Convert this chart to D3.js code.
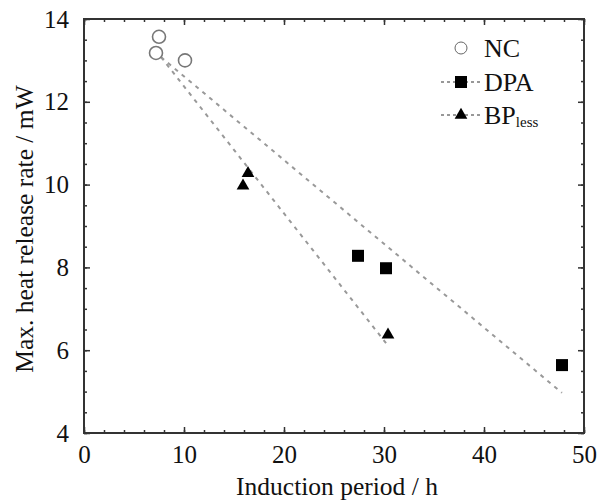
<!DOCTYPE html>
<html>
<head>
<meta charset="utf-8">
<script src="https://cdn.jsdelivr.net/npm/d3@7"></script>
<style>
  body { margin: 0; background: #fff; }
  text { font-family: "Liberation Serif", "Times New Roman", serif; fill: #111; }
</style>
</head>
<body>
<div id="chart"></div>
<script>
//
// data
//
var ncX = [7.5, 7.2, 10.1];
var ncY = [13.57, 13.18, 13.0];

var dpaX = [27.4, 30.2, 47.8];
var dpaY = [8.28, 7.98, 5.64];

var bpX = [15.9, 16.4, 30.4];
var bpY = [9.97, 10.27, 6.37];

// dashed trend lines (start / end)
var dpaFitX = [7.7, 47.8];
var dpaFitY = [13.08, 4.97];
var bpFitX = [7.7, 30.4];
var bpFitY = [13.08, 6.11];

var xTicks = [0, 10, 20, 30, 40, 50];
var yTicks = [4, 6, 8, 10, 12, 14];

//
// size and margins
//
var margin = {top: 19, right: 14, bottom: 67, left: 84};
var width = 598 - margin.left - margin.right;
var height = 500 - margin.top - margin.bottom;

var x = d3.scaleLinear().domain([0, 50]).range([0, width]);
var y = d3.scaleLinear().domain([4, 14]).range([height, 0]);

var svg = d3.select("#chart").append("svg")
	.attr("width", 598)
	.attr("height", 500)
	.append("g")
	.attr("transform", "translate(" + margin.left + "," + margin.top + ")");

//
// axes: major ticks inward, minor ticks, mirrored on top and right
//
var axisColor = "#333";
function styleAxis(g) {
	g.select(".domain").remove();
	g.selectAll("line").attr("stroke", axisColor).attr("stroke-width", 1.5);
}

var xMinor = d3.range(0, 50.01, 2);
var yMinor = d3.range(4, 14.01, 0.5);

svg.append("g").attr("transform", "translate(0," + height + ")")
	.call(d3.axisBottom(x).tickValues(xMinor).tickSize(-3).tickFormat(""))
	.call(styleAxis);
svg.append("g")
	.call(d3.axisTop(x).tickValues(xMinor).tickSize(-3).tickFormat(""))
	.call(styleAxis);
svg.append("g")
	.call(d3.axisLeft(y).tickValues(yMinor).tickSize(-3).tickFormat(""))
	.call(styleAxis);
svg.append("g").attr("transform", "translate(" + width + ",0)")
	.call(d3.axisRight(y).tickValues(yMinor).tickSize(-3).tickFormat(""))
	.call(styleAxis);

var axisX = svg.append("g").attr("transform", "translate(0," + height + ")")
	.call(d3.axisBottom(x).tickValues(xTicks).tickSize(-6).tickPadding(12))
	.call(styleAxis);
axisX.selectAll("text").style("font-size", "25px").attr("fill", "#111");

svg.append("g")
	.call(d3.axisTop(x).tickValues(xTicks).tickSize(-6).tickFormat(""))
	.call(styleAxis);

var axisY = svg.append("g")
	.call(d3.axisLeft(y).tickValues(yTicks).tickSize(-6).tickPadding(15))
	.call(styleAxis);
axisY.selectAll("text").style("font-size", "25px").attr("fill", "#111");

svg.append("g").attr("transform", "translate(" + width + ",0)")
	.call(d3.axisRight(y).tickValues(yTicks).tickSize(-6).tickFormat(""))
	.call(styleAxis);

// frame
svg.append("rect")
	.attr("x", 0).attr("y", 0)
	.attr("width", width).attr("height", height)
	.style("fill", "none")
	.style("stroke", axisColor)
	.style("stroke-width", 2);

//
// axis labels
//
svg.append("text")
	.attr("x", width / 2 + 3)
	.attr("y", height + 62)
	.attr("text-anchor", "middle")
	.style("font-size", "25.5px")
	.text("Induction period / h");

svg.append("text")
	.attr("transform", "rotate(-90)")
	.attr("x", -height / 2 - 3)
	.attr("y", -51)
	.attr("text-anchor", "middle")
	.style("font-size", "25.5px")
	.text("Max. heat release rate / mW");

//
// dashed fit lines
//
var line = d3.line().x(function(d) { return x(d[0]); }).y(function(d) { return y(d[1]); });
[[dpaFitX, dpaFitY], [bpFitX, bpFitY]].forEach(function(f) {
	svg.append("path")
		.datum(d3.zip(f[0], f[1]))
		.attr("d", line)
		.style("fill", "none")
		.style("stroke", "#999")
		.style("stroke-width", 2)
		.style("stroke-dasharray", "4,5");
});

//
// markers
//
svg.selectAll(".nc")
	.data(d3.zip(ncX, ncY))
	.enter().append("circle")
	.attr("cx", function(d) { return x(d[0]); })
	.attr("cy", function(d) { return y(d[1]); })
	.attr("r", 6.5)
	.style("fill", "#fff")
	.style("stroke", "#777")
	.style("stroke-width", 1.6);

var sq = d3.symbol().type(d3.symbolSquare).size(144);
svg.selectAll(".dpa")
	.data(d3.zip(dpaX, dpaY))
	.enter().append("path")
	.attr("d", sq)
	.attr("transform", function(d) { return "translate(" + x(d[0]) + "," + y(d[1]) + ")"; })
	.style("fill", "#000");

var tri = d3.symbol().type(d3.symbolTriangle).size(70);
svg.selectAll(".bp")
	.data(d3.zip(bpX, bpY))
	.enter().append("path")
	.attr("d", tri)
	.attr("transform", function(d) { return "translate(" + x(d[0]) + "," + y(d[1]) + ")"; })
	.style("fill", "#000");

//
// legend
//
var lg = d3.select("svg").append("g");
var lx = 461;

lg.append("circle").attr("cx", lx).attr("cy", 48).attr("r", 6)
	.style("fill", "#fff").style("stroke", "#666").style("stroke-width", 1);
lg.append("text").attr("x", 484).attr("y", 57).style("font-size", "26px").text("NC");

[82, 115].forEach(function(ly) {
	lg.append("line")
		.attr("x1", lx - 20).attr("x2", lx + 20)
		.attr("y1", ly).attr("y2", ly)
		.style("stroke", "#333").style("stroke-width", 1.2)
		.style("stroke-dasharray", "3,3");
});
lg.append("path").attr("d", sq).attr("transform", "translate(" + lx + ",82)").style("fill", "#000");
lg.append("text").attr("x", 484).attr("y", 91).style("font-size", "26px").text("DPA");

lg.append("path").attr("d", tri).attr("transform", "translate(" + lx + ",115)").style("fill", "#000");
var bpText = lg.append("text").attr("x", 484).attr("y", 124).style("font-size", "26px");
bpText.append("tspan").text("BP");
bpText.append("tspan").attr("dy", 3).style("font-size", "15px").text("less");
</script>
</body>
</html>
